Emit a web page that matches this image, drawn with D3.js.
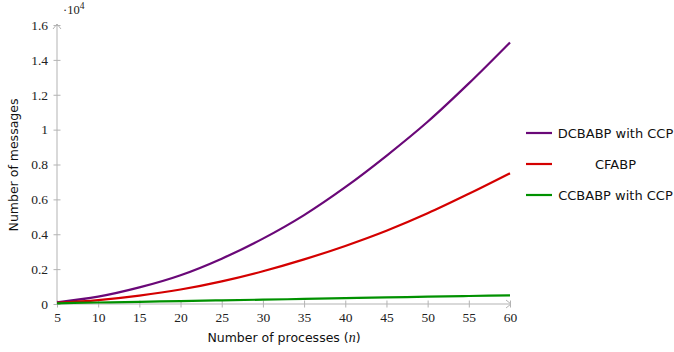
<!DOCTYPE html>
<html>
<head>
<meta charset="utf-8">
<script src="https://cdn.jsdelivr.net/npm/d3@7"></script>
<style>
  body { margin: 0; background: #fff; }
  svg { display: block; }
</style>
</head>
<body>
<div id="chart"></div>
<script>
// data (n = number of processes)
const procs = [5, 10, 15, 20, 25, 30, 35, 40, 45, 50, 55, 60];
const dcbabp = [100, 420, 950, 1650, 2600, 3750, 5100, 6700, 8500, 10450, 12650, 15000];
const cfabp = [60, 220, 480, 830, 1300, 1880, 2560, 3330, 4200, 5200, 6320, 7500];
const ccbabp = [40, 85, 125, 170, 210, 250, 290, 335, 375, 420, 460, 500];
const seriesNames = ["DCBABP with CCP", "CFABP", "CCBABP with CCP"];
const seriesColors = ["#6a0878", "#d40000", "#009100"];
const xTicks = [5, 10, 15, 20, 25, 30, 35, 40, 45, 50, 55, 60];
const yTicks = [0, 0.2, 0.4, 0.6, 0.8, 1, 1.2, 1.4, 1.6];

const W = 674, H = 352;
const margin = { top: 25, right: 163, bottom: 48, left: 57 };

const svg = d3.select("#chart").append("svg")
    .attr("width", W)
    .attr("height", H);

const g = svg.append("g")
    .attr("transform", `translate(${margin.left},${margin.top})`);

const x = d3.scaleLinear().domain([5, 60]).range([0, 453]);
const y = d3.scaleLinear().domain([0, 1.6]).range([279, 0]);

const axisColor = "#b3b3b3";
const serif = "'Liberation Serif', 'DejaVu Serif', serif";
const sans = "'DejaVu Sans', sans-serif";

// axes (pgfplots style, ticks crossing the line)
const xAxis = g.append("g")
    .attr("transform", `translate(0,${y(0)})`)
    .call(d3.axisBottom(x).tickValues(xTicks).tickSize(0).tickPadding(8));
xAxis.select(".domain").remove();
xAxis.selectAll("text").attr("font-family", serif).attr("font-size", 13.5).attr("fill", "#222");
xAxis.selectAll(".tick").append("line")
    .attr("y1", -3.5).attr("y2", 3.5).attr("stroke", axisColor);

const yAxis = g.append("g")
    .call(d3.axisLeft(y).tickValues(yTicks).tickSize(0).tickPadding(9).tickFormat(d => d3.format("")(d)));
yAxis.select(".domain").remove();
yAxis.selectAll("text").attr("font-family", serif).attr("font-size", 13.5).attr("fill", "#222");
yAxis.selectAll(".tick").append("line")
    .attr("x1", -3.5).attr("x2", 3.5).attr("stroke", axisColor);

g.append("line")
    .attr("x1", 0).attr("x2", x(60) + 1)
    .attr("y1", y(0)).attr("y2", y(0))
    .attr("stroke", axisColor).attr("stroke-width", 1);
g.append("line")
    .attr("x1", 0).attr("x2", 0)
    .attr("y1", y(0)).attr("y2", y(1.6) - 1)
    .attr("stroke", axisColor).attr("stroke-width", 1);
// arrow heads
g.append("path")
    .attr("d", `M${x(60) - 4},${y(0) - 4} L${x(60) + 1},${y(0)} L${x(60) - 4},${y(0) + 4}`)
    .attr("fill", "none").attr("stroke", axisColor);
g.append("path")
    .attr("d", `M-4,${y(1.6) + 4} L0,${y(1.6) - 1} L4,${y(1.6) + 4}`)
    .attr("fill", "none").attr("stroke", axisColor);

// scale marker
const expo = g.append("text")
    .attr("x", 6).attr("y", -11)
    .attr("font-family", serif).attr("font-size", 12.5).attr("fill", "#222");
expo.append("tspan").text("\u00b710");
expo.append("tspan").attr("dy", -5).attr("font-size", 9.5).text("4");

// lines
const allSeries = [dcbabp, cfabp, ccbabp];
const line = d3.line()
    .x((d, i) => x(procs[i]))
    .y(d => y(d / 10000))
    .curve(d3.curveMonotoneX);

allSeries.forEach((s, k) => {
    g.append("path")
        .datum(s)
        .attr("d", line)
        .attr("fill", "none")
        .attr("stroke", seriesColors[k])
        .attr("stroke-width", 2.2);
});

// axis titles
svg.append("text")
    .attr("x", margin.left + 227).attr("y", 342)
    .attr("text-anchor", "middle")
    .attr("font-family", sans).attr("font-size", 12.5).attr("fill", "#111")
    .html("Number of processes (<tspan font-family=\"'Liberation Serif', serif\" font-style=\"italic\" font-size=\"14\">n</tspan>)");

svg.append("text")
    .attr("transform", `translate(18,${margin.top + 140}) rotate(-90)`)
    .attr("text-anchor", "middle")
    .attr("font-family", sans).attr("font-size", 12.5).attr("fill", "#111")
    .text("Number of messages");

// legend
const legend = svg.append("g").attr("transform", "translate(526,133)");
seriesNames.forEach((name, k) => {
    const row = legend.append("g").attr("transform", `translate(0,${k * 31})`);
    row.append("line")
        .attr("x1", 0).attr("x2", 26)
        .attr("stroke", seriesColors[k]).attr("stroke-width", 2.2);
    row.append("text")
        .attr("x", 89.5).attr("y", 4.5)
        .attr("text-anchor", "middle")
        .attr("font-family", sans).attr("font-size", 13).attr("fill", "#111")
        .text(name);
});
</script>
</body>
</html>
